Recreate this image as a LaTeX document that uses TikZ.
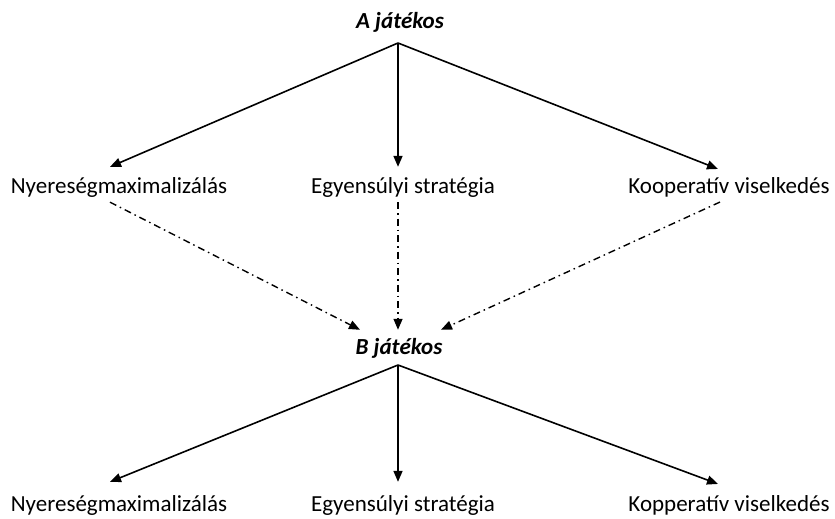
\documentclass[tikz,border=0pt]{standalone}
\usepackage{fontspec}
\setmainfont{Carlito}
\usetikzlibrary{arrows.meta}

\begin{document}
\begin{tikzpicture}[x=1pt,y=-1pt,>={Triangle[length=11pt,width=9pt]},
  lab/.style={font=\fontsize{23}{26}\selectfont,inner sep=0pt},
  player/.style={font=\fontsize{23}{26}\selectfont\bfseries\itshape,inner sep=0pt},
  choice/.style={->,line width=1.6pt},
  reply/.style={->,line width=1.4pt,dash pattern=on 7pt off 4pt on 1.5pt off 4pt}]
  \useasboundingbox (0,0) rectangle (835,519);
  % first player
  \node[player] (A) at (400,22) {A játékos};
  \coordinate (apexA) at (398,43);
  \node[lab] (a1) at (119,187) {Nyereségmaximalizálás};
  \node[lab] (a2) at (403,187) {Egyensúlyi stratégia};
  \node[lab] (a3) at (729,187) {Kooperatív viselkedés};
  \draw[choice] (apexA) -- ([xshift=-9pt,yshift=10pt]a1.north);
  \draw[choice] (apexA) -- ([xshift=-5pt,yshift=10pt]a2.north);
  \draw[choice] (apexA) -- ([xshift=-11pt,yshift=8pt]a3.north);
  % second player
  \node[player] (B) at (399,348) {B játékos};
  \coordinate (apexB) at (398,365);
  \draw[reply] ([xshift=-9pt,yshift=-5pt]a1.south) -- ([xshift=-39pt,yshift=8pt]B.north);
  \draw[reply] ([xshift=-5pt,yshift=-5pt]a2.south) -- ([xshift=-1pt,yshift=8pt]B.north);
  \draw[reply] ([xshift=-9pt,yshift=-5pt]a3.south) -- ([xshift=42pt,yshift=8pt]B.north);
  \node[lab] (b1) at (119,505) {Nyereségmaximalizálás};
  \node[lab] (b2) at (403,505) {Egyensúlyi stratégia};
  \node[lab] (b3) at (729,505) {Kopperatív viselkedés};
  \draw[choice] (apexB) -- ([xshift=-9pt,yshift=13pt]b1.north);
  \draw[choice] (apexB) -- ([xshift=-5pt,yshift=13pt]b2.north);
  \draw[choice] (apexB) -- ([xshift=-11pt,yshift=11pt]b3.north);
\end{tikzpicture}
\end{document}
